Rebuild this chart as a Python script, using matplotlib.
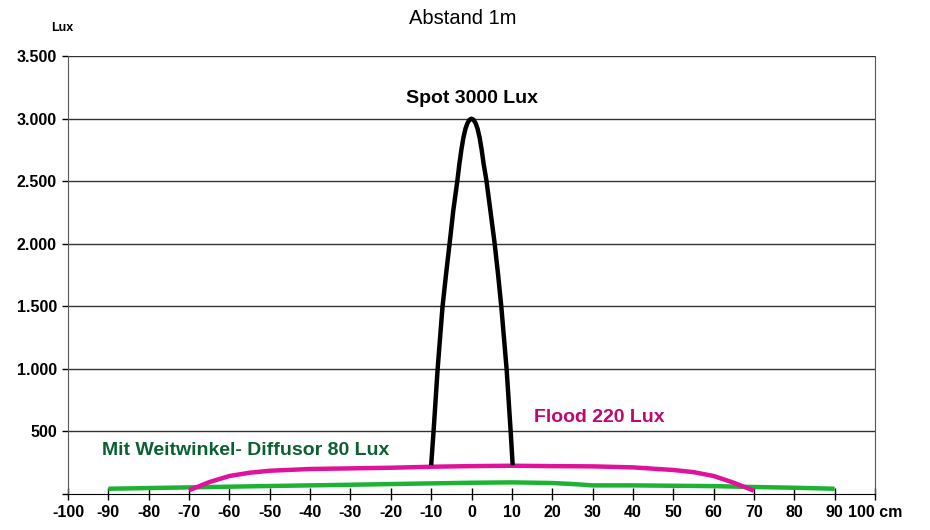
import matplotlib.pyplot as plt

# Daten (Abstand 1m)
spot_x = [-10, -9.4, -8.4, -7.2, -6.3, -5.4, -4.5, -3.5, -3, -2.5, -2, -1.5, -1, -0.5, 0,
          0.5, 1, 1.5, 2, 2.5, 3, 3.7, 4.7, 5.7, 6.6, 7.4, 8.7, 9.7, 10.2]
spot_y = [230, 503, 998, 1492, 1760, 2011, 2270, 2506, 2640, 2755, 2850, 2920, 2965, 2992, 3000,
          2992, 2965, 2920, 2850, 2755, 2640, 2506, 2260, 2011, 1750, 1492, 998, 503, 230]

flood_x = [-70, -65, -60, -55, -50, -40, -30, -20, -10, 0, 10, 20, 30, 40, 50, 55, 60, 65, 70]
flood_y = [30, 95, 144, 170, 186, 200, 205, 210, 218, 223, 226, 223, 221, 213, 192, 175, 144, 90, 26]

weit_x = [-90, -70, -50, -30, -10, 0, 10, 20, 25, 30, 40, 50, 60, 70, 80, 90]
weit_y = [42, 53, 64, 74, 85, 90, 93, 88, 80, 69, 69, 66, 63, 56, 50, 42]

x_ticks = list(range(-100, 101, 10))
x_labels = [str(v) for v in x_ticks[:-1]] + ["100 cm"]
y_ticks = [500, 1000, 1500, 2000, 2500, 3000, 3500]
y_labels = ["500", "1.000", "1.500", "2.000", "2.500", "3.000", "3.500"]

sans = ['Liberation Sans', 'DejaVu Sans']

fig = plt.figure(figsize=(9.3, 5.3), dpi=100)
ax = fig.add_axes([0.0731, 0.0679, 0.8678, 0.8261])

ax.plot(weit_x, weit_y, color='#1db233', lw=3.2, solid_capstyle='butt', solid_joinstyle='round', zorder=3)
ax.plot(flood_x, flood_y, color='#e0129b', lw=3.2, solid_capstyle='butt', solid_joinstyle='round', zorder=4)
ax.plot(spot_x, spot_y, color='black', lw=3.2, solid_capstyle='butt', solid_joinstyle='round', zorder=5)

ax.set_xlim(-100, 100)
ax.set_ylim(0, 3500)
ax.set_xticks(x_ticks)
ax.set_xticklabels(x_labels, family=sans, fontweight='bold', fontsize=11.5)
ax.set_yticks([0] + y_ticks)
ax.set_yticklabels([""] + y_labels, family=sans, fontweight='bold', fontsize=11.5)
ax.tick_params(axis='x', direction='inout', length=8, width=1, colors='black', pad=4)
ax.tick_params(axis='y', direction='out', length=4, width=1, colors='black', pad=4)

for v in y_ticks:
    ax.axhline(v, color='#333333', lw=1, zorder=1)

for s in ['left', 'right']:
    ax.spines[s].set_color('#555555')
ax.spines['top'].set_visible(False)
ax.spines['bottom'].set_color('black')

fig.text(0.498, 0.966, "Abstand 1m", ha='center', va='center', fontsize=14.5, family=sans)
fig.text(0.067, 0.947, "Lux", ha='center', va='center', fontsize=9, fontweight='bold', family=sans)

ax.text(0, 3160, "Spot 3000 Lux", ha='center', va='center', fontsize=14,
        fontweight='bold', color='black', family=sans)
ax.text(15.5, 615, "Flood 220 Lux", ha='left', va='center', fontsize=14,
        fontweight='bold', color='#c0076f', family=sans)
ax.text(-91.5, 350, "Mit Weitwinkel- Diffusor 80 Lux", ha='left', va='center', fontsize=14,
        fontweight='bold', color='#0a6030', family=sans)

plt.savefig("out.png", dpi=100)
